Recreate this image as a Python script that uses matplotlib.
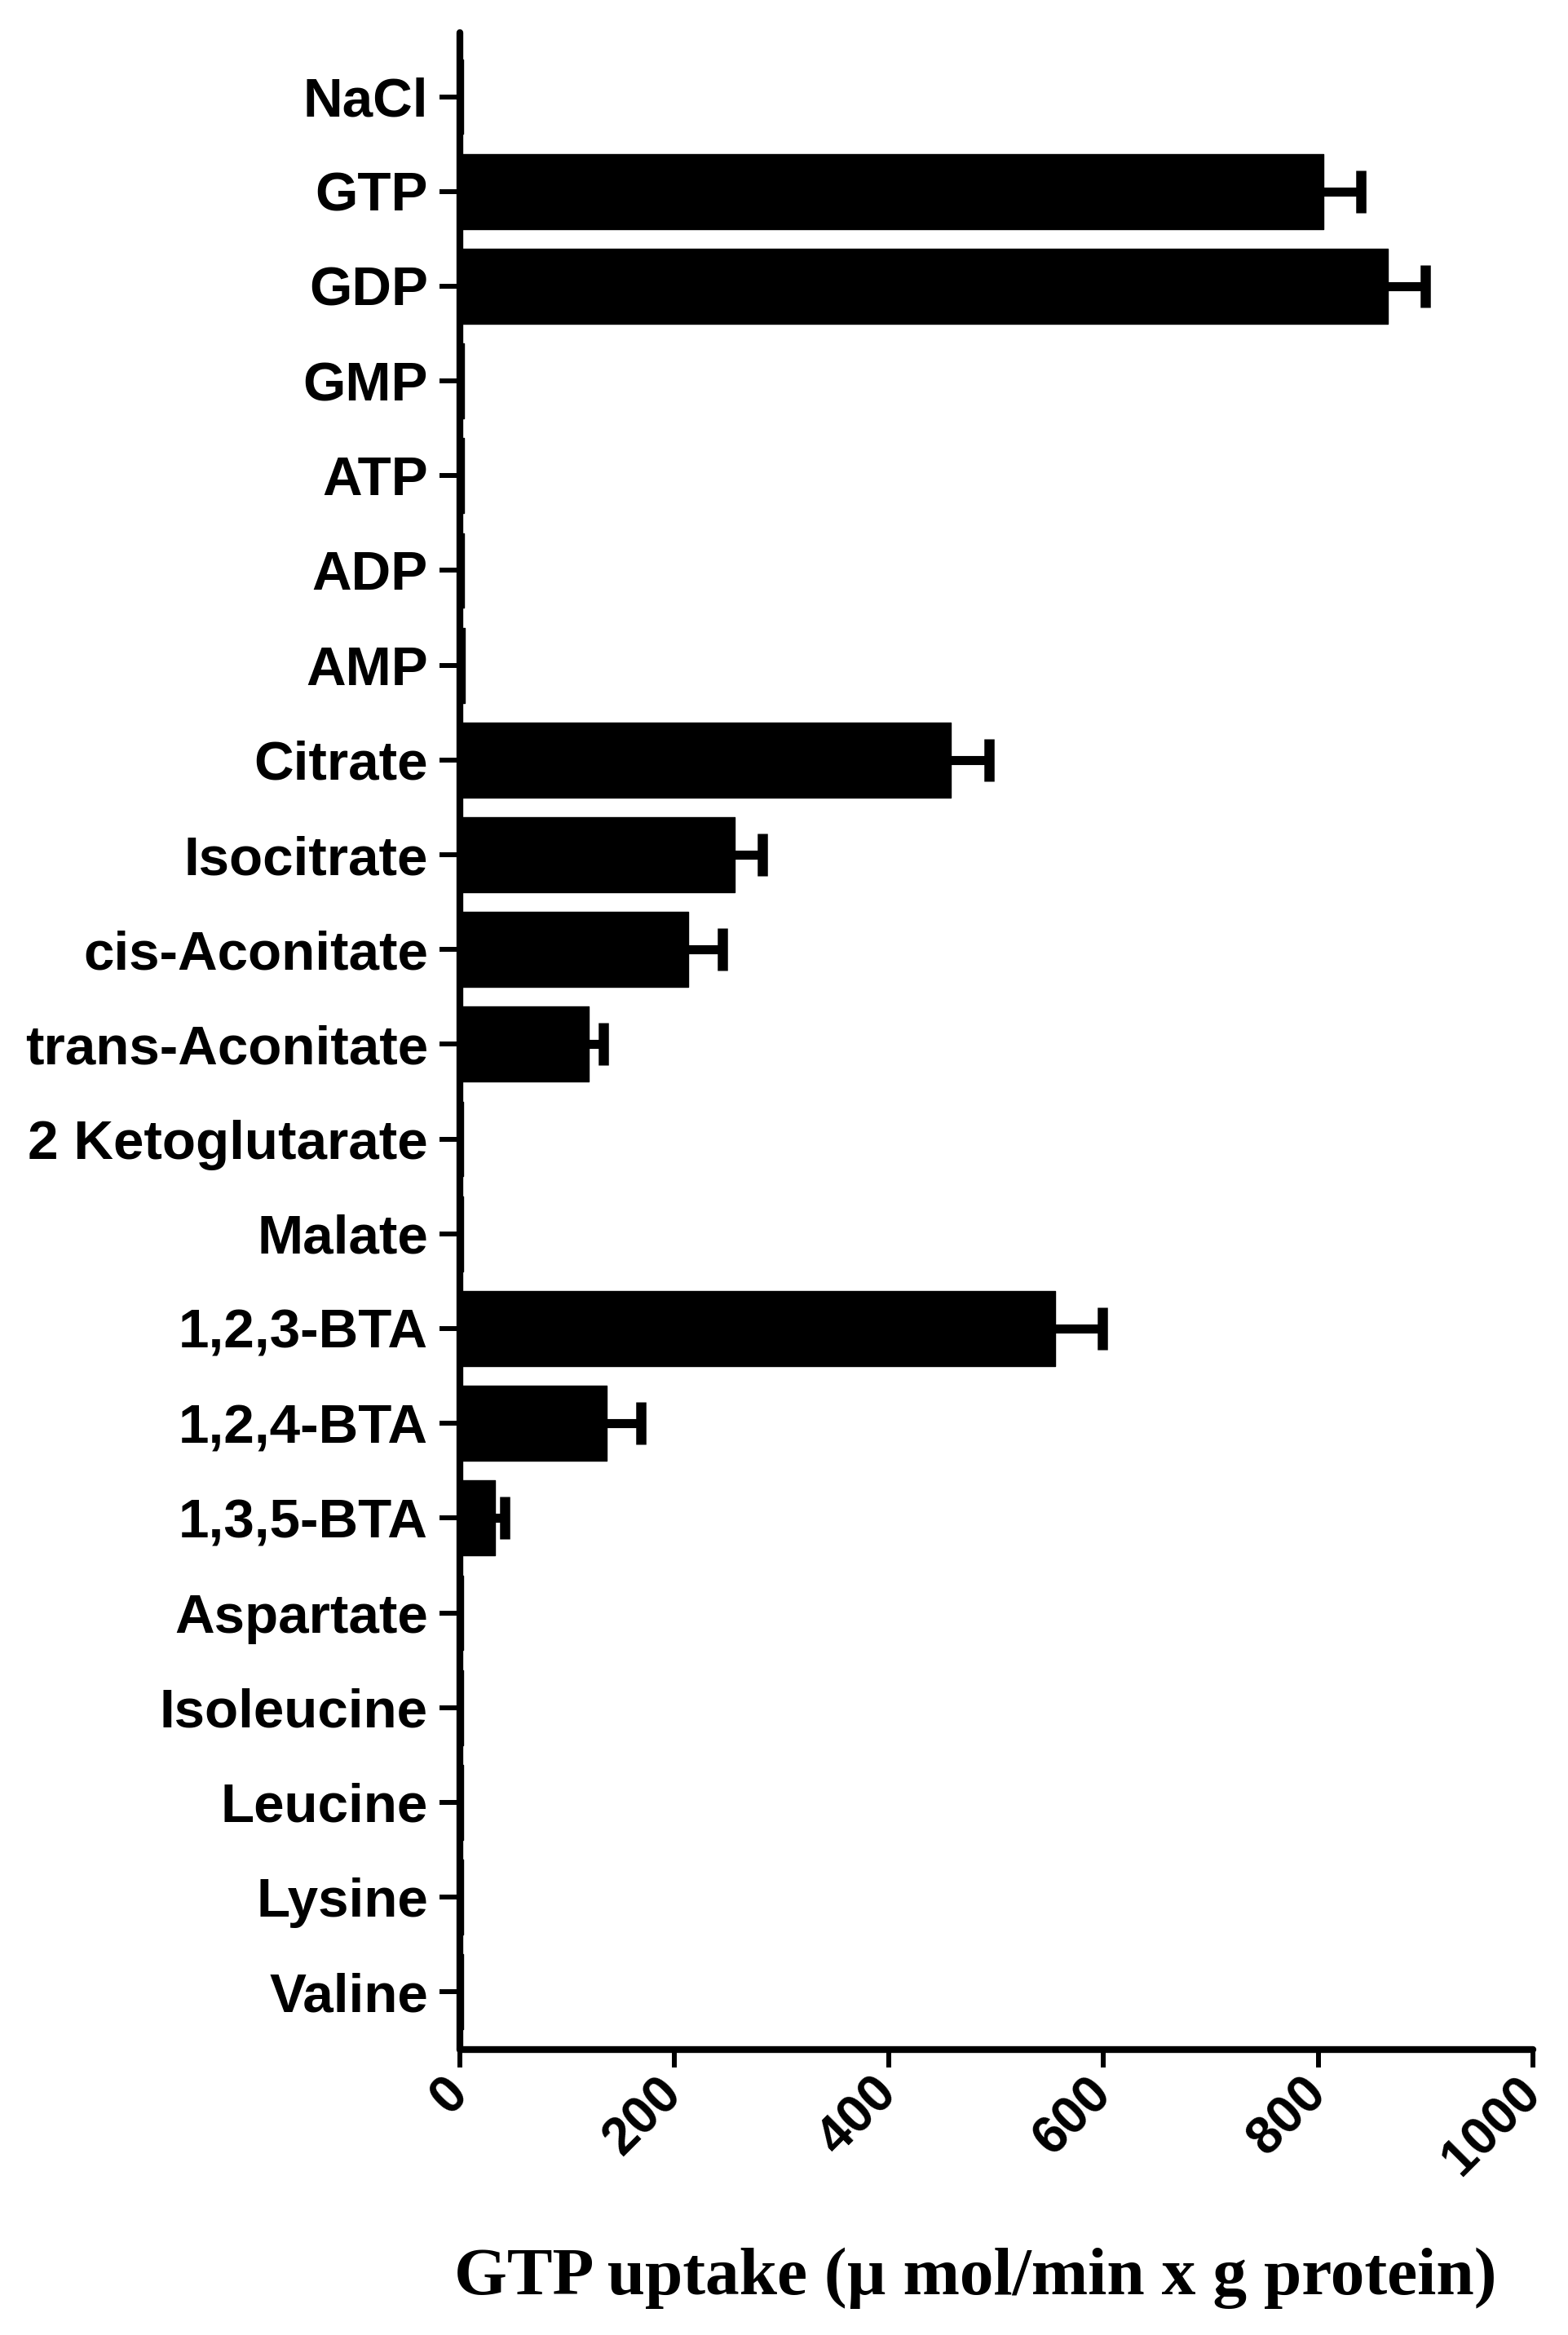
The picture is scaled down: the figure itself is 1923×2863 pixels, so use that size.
import matplotlib
matplotlib.use('Agg')
import matplotlib.pyplot as plt
import matplotlib.transforms as mtransforms
import numpy as np

# GTP uptake per substrate
substrates = ['NaCl', 'GTP', 'GDP', 'GMP', 'ATP', 'ADP', 'AMP', 'Citrate',
              'Isocitrate', 'cis-Aconitate', 'trans-Aconitate', '2 Ketoglutarate',
              'Malate', '1,2,3-BTA', '1,2,4-BTA', '1,3,5-BTA', 'Aspartate',
              'Isoleucine', 'Leucine', 'Lysine', 'Valine']
uptake = [3, 805, 865, 4, 4, 4, 5, 458,
          256, 213, 120, 3,
          3, 555, 137, 33, 3,
          3, 3, 3, 3]
sem = [0, 35, 35, 0, 0, 0, 0, 35,
       26, 32, 14, 0,
       0, 44, 32, 9, 0,
       0, 0, 0, 0]
xticks = [0, 200, 400, 600, 800, 1000]

fig = plt.figure(figsize=(19.24, 28.63), dpi=100)
ax = fig.add_axes([0.293, 0.1222, 0.684, 0.864])

pos = np.arange(len(substrates))
ax.barh(pos, uptake, height=0.79, color='black', edgecolor='black',
        linewidth=1, joinstyle='round', zorder=3)

# symmetric error bars drawn behind the bars, so only the upper half shows
has_err = np.array(sem) > 0
ax.errorbar(np.array(uptake)[has_err], pos[has_err],
            xerr=np.array(sem)[has_err],
            fmt='none', ecolor='black', elinewidth=8, capsize=19, capthick=9,
            zorder=2)

ax.set_yticks(pos)
ax.set_yticklabels(substrates, fontsize=48.5, fontweight='bold',
                   family='Liberation Sans')
ax.set_ylim(20.61, -0.68)

ax.set_xlim(0, 1000)
ax.set_xticks(xticks)
ax.set_xticklabels([str(t) for t in xticks], fontsize=46, fontweight='bold',
                   family='Liberation Sans', rotation=45, ha='right',
                   va='center', rotation_mode='anchor')
shift = mtransforms.ScaledTranslation(16 / 72, -6 / 72, fig.dpi_scale_trans)
for lab in ax.get_xticklabels():
    lab.set_transform(lab.get_transform() + shift)

for side in ['top', 'right']:
    ax.spines[side].set_visible(False)
for side in ['left', 'bottom']:
    ax.spines[side].set_linewidth(6)
    ax.spines[side].set_capstyle('round')

ax.tick_params(axis='y', length=18, width=4.3, pad=10)
ax.tick_params(axis='x', length=16, width=4.3, pad=16)

ax.set_xlabel('GTP uptake (\u00b5 mol/min x g protein)', fontsize=60,
              fontweight='bold', family='Liberation Serif', va='center')
ax.xaxis.set_label_coords(0.481, -0.1132)

fig.savefig('out.png', dpi=100)
